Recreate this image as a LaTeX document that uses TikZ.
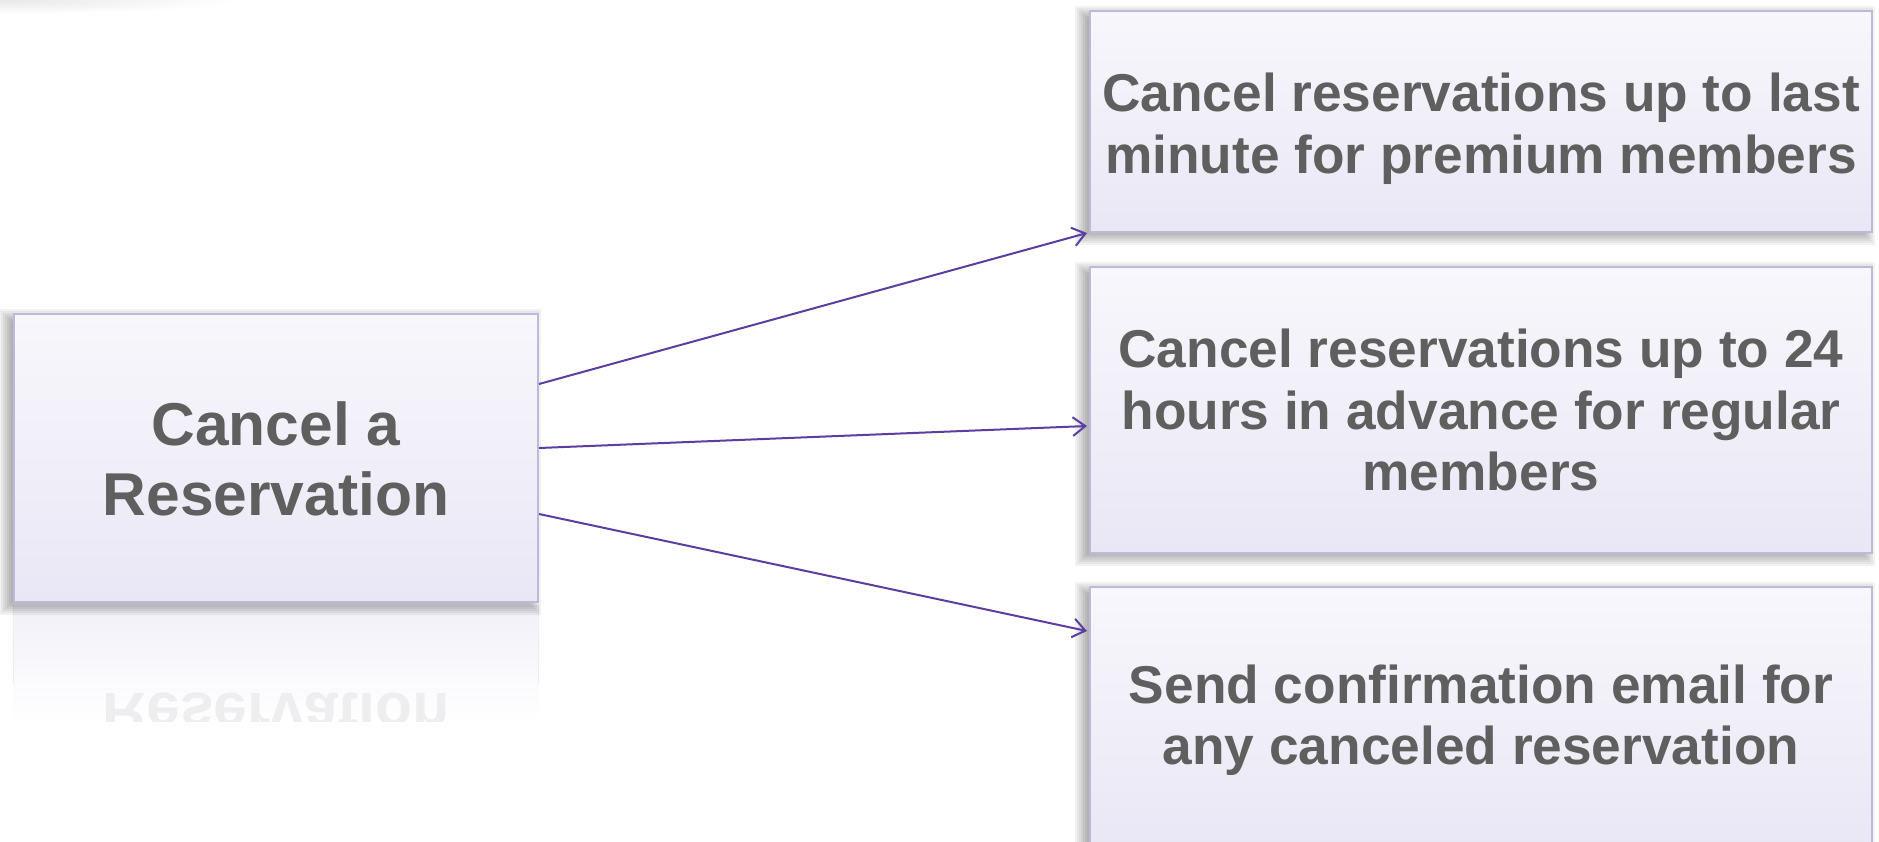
\documentclass[tikz,border=0pt]{standalone}
\usepackage{fontspec}
\setmainfont{Liberation Sans}
\usetikzlibrary{arrows.meta,calc,backgrounds}

\definecolor{txt}{HTML}{5F5F5F}
\definecolor{boxtop}{HTML}{F8F7FC}
\definecolor{boxbot}{HTML}{E9E7F5}
\definecolor{boxline}{HTML}{BDB9D9}
\definecolor{arrowc}{HTML}{5B3EA0}
\definecolor{refltop}{HTML}{F1F0F8}
\definecolor{reflline}{HTML}{ECEAF3}
\definecolor{refltext}{HTML}{EEEEF0}

\tikzset{
  card/.style={draw=boxline, line width=0.8pt, top color=boxtop, bottom color=boxbot,
    inner sep=0pt},
  cardtext/.style={inner sep=0pt, align=center, text=txt,
    font=\bfseries\fontsize{21.3}{24.6}\selectfont},
  maintext/.style={cardtext, font=\bfseries\fontsize{24.2}{27.8}\selectfont},
  conn/.style={draw=arrowc, line width=0.8pt,
    -{Straight Barb[length=5pt,width=7.5pt,line width=0.8pt]}},
}

% soft drop shadow behind a node, offset to the left and slightly down
\newcommand\softshadow[1]{%
  \foreach \e in {-8,-6,...,8}{%
    \fill[black,opacity=0.05]
      ($(#1.north west)+(-6-\e,4-\e)$) rectangle ($(#1.south east)+(-6+\e,4+\e)$);
  }}

\begin{document}
\begin{tikzpicture}[x=0.4pt,y=-0.4pt]
  \useasboundingbox (0,0) rectangle (1879,841);
  \clip (0,0) rectangle (1879,841);

  % boxes
  \node[card, minimum width=209.6pt, minimum height=115.2pt] (L) at (276,458) {};
  \node[card, minimum width=312.8pt, minimum height=88.4pt] (B1) at (1481,121.5) {};
  \node[card, minimum width=312.8pt, minimum height=114.4pt] (B2) at (1481,410) {};
  \node[card, minimum width=312.8pt, minimum height=104pt] (B3) at (1481,717) {};

  % box labels
  \node[maintext] (Lt) at ($(L.center)+(0,1)$) {Cancel a\\Reservation};
  \node[cardtext] (B1t) at ($(B1.center)+(0,7)$)
    {Cancel reservations up to last\\minute for premium members};
  \node[cardtext] (B2t) at (B2.center)
    {Cancel reservations up to 24\\hours in advance for regular\\members};
  \node[cardtext] (B3t) at ($(B3.center)+(0,3)$)
    {Send confirmation email for\\any canceled reservation};

  % connectors
  \draw[conn] ($(L.east)+(0,-74)$) -- ($(B1.south west)+(-2,0)$);
  \draw[conn] ($(L.east)+(0,-10)$) -- ($(B2.west)+(-2,16)$);
  \draw[conn] ($(L.east)+(0,56)$) -- ($(B3.west)+(-2,-86)$);

  \begin{pgfonlayer}{background}
    % faint haze in the top-left corner
    \shade[inner color=black!9, outer color=white] (0,0) ellipse (240 and 14);

    % mirrored reflection under the main box
    \begin{scope}
      \clip ($(L.south west)+(0,2)$) rectangle ($(L.south east)+(0,118)$);
      \shade[top color=refltop, bottom color=white]
        ($(L.south west)+(0,2)$) rectangle ($(L.south east)+(0,118)$);
      \draw[reflline, line width=0.8pt] ($(L.south west)+(0,2)$) -- ($(L.south west)+(0,80)$);
      \draw[reflline, line width=0.8pt] ($(L.south east)+(0,2)$) -- ($(L.south east)+(0,80)$);
      \node[inner sep=0pt, align=center, text=refltext, yscale=-1, transform shape,
        font=\bfseries\fontsize{24.2}{27.8}\selectfont] (Lr) at (276,750)
        {Cancel a\\Reservation};
    \end{scope}

    % drop shadows
    \softshadow{L}
    \softshadow{B1}
    \softshadow{B2}
    \softshadow{B3}
  \end{pgfonlayer}
\end{tikzpicture}
\end{document}
